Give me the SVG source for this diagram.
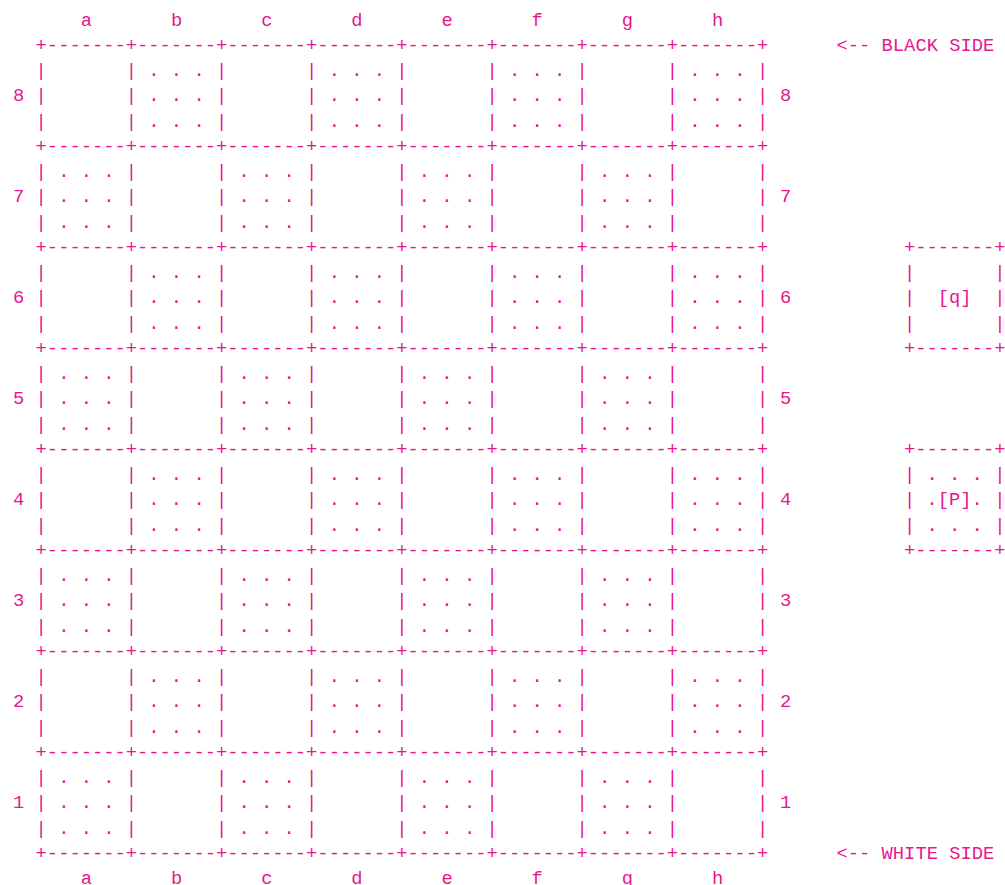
<svg xmlns="http://www.w3.org/2000/svg" width="1005" height="885" viewBox="0 0 1005 885">
<style>
text { font-family: "Liberation Mono", "DejaVu Sans Mono", monospace; font-size: 18.8px; fill: #e8168c; white-space: pre; }
</style>
<rect width="1005" height="885" fill="#ffffff"/>
<g id="files-top"><text x="80.8" y="25.5" xml:space="preserve">a       b       c       d       e       f       g       h</text></g>
<g id="board">
<text x="35.6" y="50.75" xml:space="preserve">+-------+-------+-------+-------+-------+-------+-------+-------+</text>
<text x="35.6" y="76" xml:space="preserve">|       | . . . |       | . . . |       | . . . |       | . . . |</text>
<text x="35.6" y="101.25" xml:space="preserve">|       | . . . |       | . . . |       | . . . |       | . . . |</text>
<text x="35.6" y="126.5" xml:space="preserve">|       | . . . |       | . . . |       | . . . |       | . . . |</text>
<text x="35.6" y="151.75" xml:space="preserve">+-------+-------+-------+-------+-------+-------+-------+-------+</text>
<text x="35.6" y="177" xml:space="preserve">| . . . |       | . . . |       | . . . |       | . . . |       |</text>
<text x="35.6" y="202.25" xml:space="preserve">| . . . |       | . . . |       | . . . |       | . . . |       |</text>
<text x="35.6" y="227.5" xml:space="preserve">| . . . |       | . . . |       | . . . |       | . . . |       |</text>
<text x="35.6" y="252.75" xml:space="preserve">+-------+-------+-------+-------+-------+-------+-------+-------+</text>
<text x="35.6" y="278" xml:space="preserve">|       | . . . |       | . . . |       | . . . |       | . . . |</text>
<text x="35.6" y="303.25" xml:space="preserve">|       | . . . |       | . . . |       | . . . |       | . . . |</text>
<text x="35.6" y="328.5" xml:space="preserve">|       | . . . |       | . . . |       | . . . |       | . . . |</text>
<text x="35.6" y="353.75" xml:space="preserve">+-------+-------+-------+-------+-------+-------+-------+-------+</text>
<text x="35.6" y="379" xml:space="preserve">| . . . |       | . . . |       | . . . |       | . . . |       |</text>
<text x="35.6" y="404.25" xml:space="preserve">| . . . |       | . . . |       | . . . |       | . . . |       |</text>
<text x="35.6" y="429.5" xml:space="preserve">| . . . |       | . . . |       | . . . |       | . . . |       |</text>
<text x="35.6" y="454.75" xml:space="preserve">+-------+-------+-------+-------+-------+-------+-------+-------+</text>
<text x="35.6" y="480" xml:space="preserve">|       | . . . |       | . . . |       | . . . |       | . . . |</text>
<text x="35.6" y="505.25" xml:space="preserve">|       | . . . |       | . . . |       | . . . |       | . . . |</text>
<text x="35.6" y="530.5" xml:space="preserve">|       | . . . |       | . . . |       | . . . |       | . . . |</text>
<text x="35.6" y="555.75" xml:space="preserve">+-------+-------+-------+-------+-------+-------+-------+-------+</text>
<text x="35.6" y="581" xml:space="preserve">| . . . |       | . . . |       | . . . |       | . . . |       |</text>
<text x="35.6" y="606.25" xml:space="preserve">| . . . |       | . . . |       | . . . |       | . . . |       |</text>
<text x="35.6" y="631.5" xml:space="preserve">| . . . |       | . . . |       | . . . |       | . . . |       |</text>
<text x="35.6" y="656.75" xml:space="preserve">+-------+-------+-------+-------+-------+-------+-------+-------+</text>
<text x="35.6" y="682" xml:space="preserve">|       | . . . |       | . . . |       | . . . |       | . . . |</text>
<text x="35.6" y="707.25" xml:space="preserve">|       | . . . |       | . . . |       | . . . |       | . . . |</text>
<text x="35.6" y="732.5" xml:space="preserve">|       | . . . |       | . . . |       | . . . |       | . . . |</text>
<text x="35.6" y="757.75" xml:space="preserve">+-------+-------+-------+-------+-------+-------+-------+-------+</text>
<text x="35.6" y="783" xml:space="preserve">| . . . |       | . . . |       | . . . |       | . . . |       |</text>
<text x="35.6" y="808.25" xml:space="preserve">| . . . |       | . . . |       | . . . |       | . . . |       |</text>
<text x="35.6" y="833.5" xml:space="preserve">| . . . |       | . . . |       | . . . |       | . . . |       |</text>
<text x="35.6" y="858.75" xml:space="preserve">+-------+-------+-------+-------+-------+-------+-------+-------+</text>
</g>
<g id="ranks-left">
<text x="13" y="101.25">8</text>
<text x="13" y="202.25">7</text>
<text x="13" y="303.25">6</text>
<text x="13" y="404.25">5</text>
<text x="13" y="505.25">4</text>
<text x="13" y="606.25">3</text>
<text x="13" y="707.25">2</text>
<text x="13" y="808.25">1</text>
</g>
<g id="ranks-right">
<text x="780" y="101.25">8</text>
<text x="780" y="202.25">7</text>
<text x="780" y="303.25">6</text>
<text x="780" y="404.25">5</text>
<text x="780" y="505.25">4</text>
<text x="780" y="606.25">3</text>
<text x="780" y="707.25">2</text>
<text x="780" y="808.25">1</text>
</g>
<g id="black-side"><text x="836.5" y="50.75" xml:space="preserve">&lt;-- BLACK SIDE</text></g>
<g id="white-side"><text x="836.5" y="858.75" xml:space="preserve">&lt;-- WHITE SIDE</text></g>
<g id="box-q">
<text x="904" y="252.75" xml:space="preserve">+-------+</text>
<text x="904" y="278" xml:space="preserve">|       |</text>
<text x="904" y="303.25" xml:space="preserve">|  [q]  |</text>
<text x="904" y="328.5" xml:space="preserve">|       |</text>
<text x="904" y="353.75" xml:space="preserve">+-------+</text>
</g>
<g id="box-P">
<text x="904" y="454.75" xml:space="preserve">+-------+</text>
<text x="904" y="480" xml:space="preserve">| . . . |</text>
<text x="904" y="505.25" xml:space="preserve">| .[P]. |</text>
<text x="904" y="530.5" xml:space="preserve">| . . . |</text>
<text x="904" y="555.75" xml:space="preserve">+-------+</text>
</g>
<g id="files-bottom"><text x="80.8" y="884" xml:space="preserve">a       b       c       d       e       f       g       h</text></g>
</svg>
